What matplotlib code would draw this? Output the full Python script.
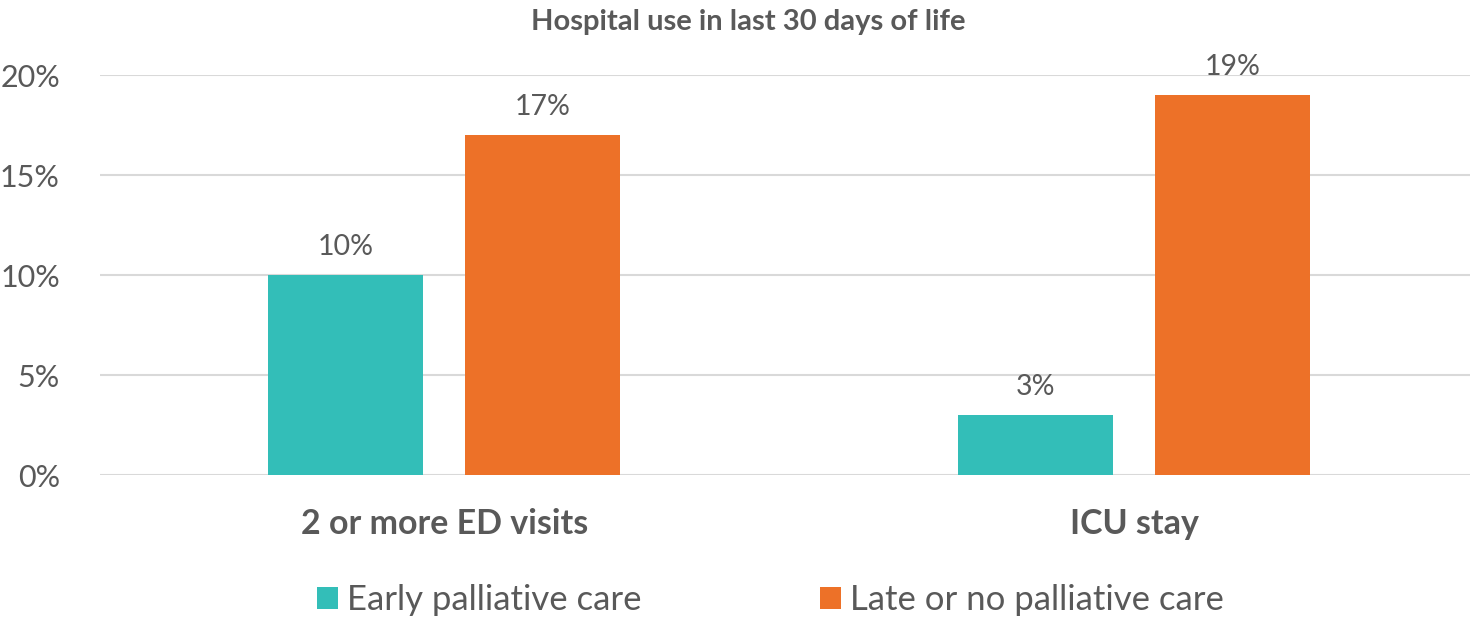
import matplotlib
matplotlib.use("Agg")
import matplotlib.pyplot as plt
import numpy as np

# data
categories = ["2 or more ED visits", "ICU stay"]
series_names = ["Early palliative care", "Late or no palliative care"]
early_values = [10, 3]
late_values = [17, 19]
y_ticks = [0, 5, 10, 15, 20]

teal = "#33BEB8"
orange = "#ED7128"
text_gray = "#595959"

plt.rcParams["font.family"] = ["Lato", "DejaVu Sans"]

fig = plt.figure(figsize=(14.73, 6.19), dpi=100)
ax = fig.add_axes([0.068, 0.2326, 0.93, 0.6462])

x = np.arange(len(categories))
width = 0.225
offset = 0.1425

bars1 = ax.bar(x - offset, early_values, width, color=teal, label=series_names[0], zorder=3)
bars2 = ax.bar(x + offset, late_values, width, color=orange, label=series_names[1], zorder=3)

for bars in (bars1, bars2):
    for b in bars:
        ax.text(b.get_x() + b.get_width() / 2, b.get_height() + 0.75, f"{b.get_height():.0f}%",
                ha="center", va="bottom", fontsize=20.5, color=text_gray)

ax.set_xlim(-0.4986, 1.487)
ax.set_ylim(0, 20)
ax.set_yticks(y_ticks)
ax.set_yticklabels([f"{v}%" for v in y_ticks])
ax.set_xticks(x)
ax.set_xticklabels(categories, fontsize=24.5, fontweight="bold", color=text_gray)
ax.tick_params(axis="y", length=0, labelsize=22, labelcolor=text_gray, pad=29)
ax.tick_params(axis="x", length=0, pad=24)
ax.grid(axis="y", color="#D9D9D9", linewidth=1.5, zorder=0)
for s in ax.spines.values():
    s.set_visible(False)

fig.text(0.508, 0.964, "Hospital use in last 30 days of life", ha="center", va="center",
         fontsize=21, fontweight="bold", color=text_gray)

fig.legend(loc="center", bbox_to_anchor=(0.523, 0.03), ncol=2, frameon=False,
           fontsize=25, labelcolor=text_gray, handlelength=0.6, handleheight=0.6,
           handletextpad=0.25, columnspacing=5.15)

fig.savefig("out.png", dpi=100)
